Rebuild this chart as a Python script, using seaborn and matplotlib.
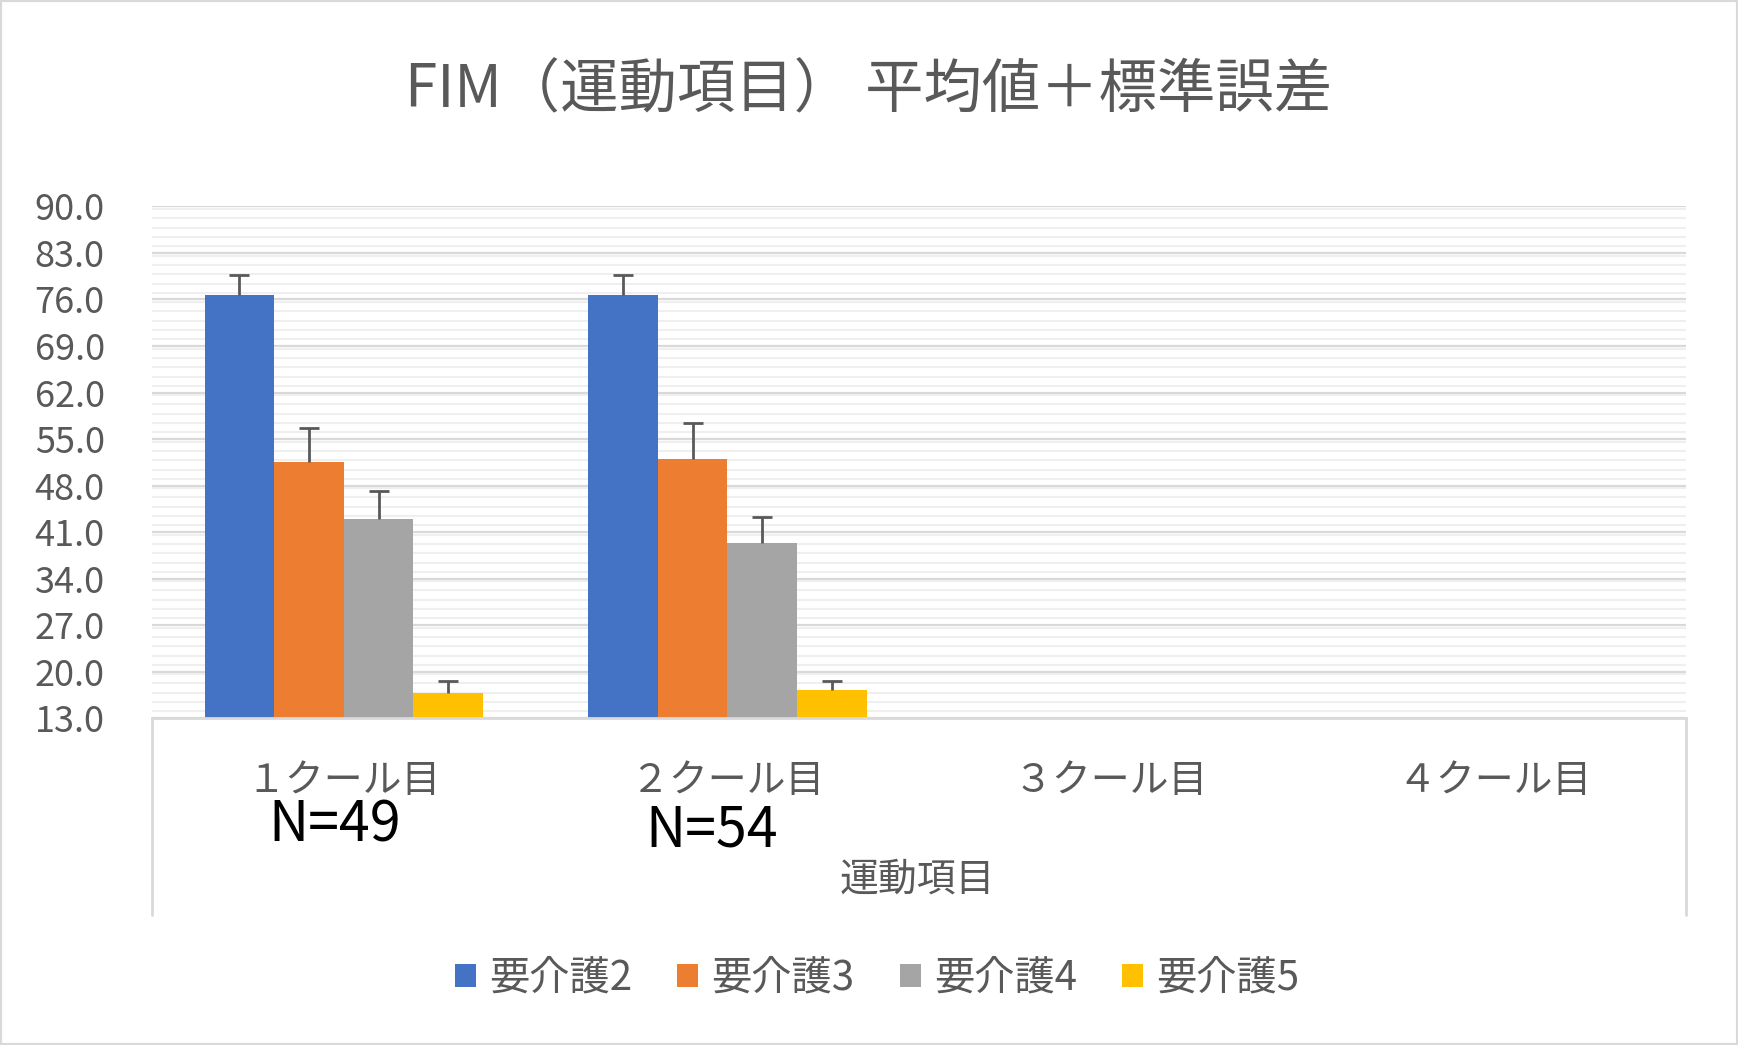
import seaborn as sns
import matplotlib.pyplot as plt
import matplotlib.ticker as mticker
from matplotlib.patches import Rectangle
import pandas as pd

# chart data
categories = ["１クール目", "２クール目", "３クール目", "４クール目"]
series = ["要介護2", "要介護3", "要介護4", "要介護5"]
colors = ["#4472C4", "#ED7D31", "#A5A5A5", "#FFC000"]
mean_c1 = [76.7, 51.5, 42.9, 16.8]
se_c1 = [3.0, 5.2, 4.3, 1.7]
mean_c2 = [76.7, 52.0, 39.4, 17.2]
se_c2 = [3.0, 5.4, 3.8, 1.4]
n_labels = ["N=49", "N=54"]
y_ticks = [13.0, 20.0, 27.0, 34.0, 41.0, 48.0, 55.0, 62.0, 69.0, 76.0, 83.0, 90.0]

rows = []
for cat, means, ses in [(categories[0], mean_c1, se_c1), (categories[1], mean_c2, se_c2)]:
    for s, m, e in zip(series, means, ses):
        rows.append({"cool": cat, "level": s, "mean": m, "se": e})
df = pd.DataFrame(rows)

sns.set_theme(style="white")
plt.rcParams["font.family"] = ["Noto Sans CJK JP", "DejaVu Sans"]

text_col = "#595959"
grid_col = "#d9d9d9"

fig = plt.figure(figsize=(17.38, 10.45), dpi=100)
ax = fig.add_axes([0.0875, 0.3129, 0.8826, 0.4895])

sns.barplot(
    data=df, x="cool", y="mean", hue="level",
    order=categories, hue_order=series, palette=colors, saturation=1,
    width=0.726, gap=0, errorbar=None, linewidth=0, ax=ax,
)

# upper error bars (standard error), only the top cap kept
se_lookup = {(r.cool, r.level): r.se for r in df.itertuples()}
for cont, lvl in zip(ax.containers, series):
    for bar in cont:
        h = bar.get_height()
        if pd.isna(h):
            continue
        xc = bar.get_x() + bar.get_width() / 2
        cat = categories[int(round(xc))]
        e = se_lookup[(cat, lvl)]
        _, caps, _ = ax.errorbar(xc, h, yerr=[[0], [e]], fmt="none", ecolor=text_col,
                                 elinewidth=2, capsize=7.2, capthick=2, zorder=3)
        caps[0].set_visible(False)

ax.set_ylim(13, 90)
ax.set_xlim(-0.5, 3.5)
ax.set_yticks(y_ticks)
ax.yaxis.set_major_formatter(mticker.FormatStrFormatter("%.1f"))
ax.yaxis.set_minor_locator(mticker.MultipleLocator(1.4))
ax.grid(axis="y", which="major", color=grid_col, linewidth=1.6, zorder=0)
ax.grid(axis="y", which="minor", color="#efefef", linewidth=1.5, zorder=0)
ax.set_axisbelow(True)

for side in ["left", "right", "top"]:
    ax.spines[side].set_visible(False)
ax.spines["bottom"].set_color(grid_col)
ax.spines["bottom"].set_linewidth(2)

ax.tick_params(axis="y", which="both", length=0, pad=34, labelsize=26, labelcolor=text_col)
ax.tick_params(axis="x", length=0, pad=31, labelsize=28, labelcolor=text_col)
ax.set_xlabel("")
ax.set_ylabel("")

# category box edges
for xa in [0, 1]:
    ax.plot([xa, xa], [0, -0.385], transform=ax.transAxes, color=grid_col,
            linewidth=2, clip_on=False)

fig.text(0.528, 0.158, "運動項目", ha="center", va="center", fontsize=28, color=text_col)
fig.text(335 / 1738, 1 - 826 / 1045, n_labels[0], ha="center", va="center",
         fontsize=40, color="black")
fig.text(712 / 1738, 1 - 831 / 1045, n_labels[1], ha="center", va="center",
         fontsize=40, color="black")

fig.text(0.5, 0.913, "FIM（運動項目） 平均値＋標準誤差", ha="center", va="center",
         fontsize=42, color=text_col)

handles, labels = ax.get_legend_handles_labels()
ax.legend(handles, labels, loc="center", bbox_to_anchor=(0.5046, 0.064),
          bbox_transform=fig.transFigure, ncol=4, frameon=False,
          fontsize=29, labelcolor=text_col, handlelength=0.52, handleheight=0.52,
          handletextpad=0.33, columnspacing=1.12)

fig.add_artist(Rectangle((0, 0), 1, 1, transform=fig.transFigure, fill=False,
                         edgecolor=grid_col, linewidth=3))

plt.savefig("out.png", dpi=100)
